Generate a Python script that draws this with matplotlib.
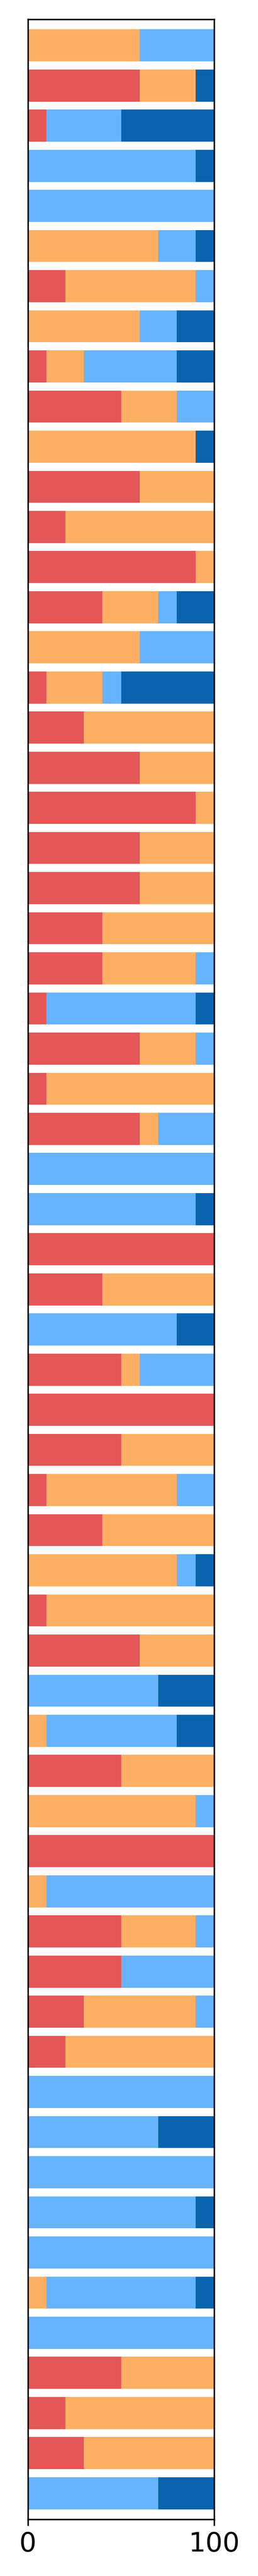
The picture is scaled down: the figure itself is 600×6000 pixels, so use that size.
import matplotlib
matplotlib.use("Agg")
import matplotlib.pyplot as plt
import numpy as np

# share of each category per row, top row first (percent)
red = [0, 60, 10, 0, 0, 0, 20, 0, 10, 50,
       0, 60, 20, 90, 40, 0, 10, 30, 60, 90,
       60, 60, 40, 40, 10, 60, 10, 60, 0, 0,
       100, 40, 0, 50, 100, 50, 10, 40, 0, 10,
       60, 0, 0, 50, 0, 100, 0, 50, 50, 30,
       20, 0, 0, 0, 0, 0, 0, 0, 50, 20,
       30, 0]
orange = [60, 30, 0, 0, 0, 70, 70, 60, 20, 30,
          90, 40, 80, 10, 30, 60, 30, 70, 40, 10,
          40, 40, 60, 50, 0, 30, 90, 10, 0, 0,
          0, 60, 0, 10, 0, 50, 70, 60, 80, 90,
          40, 0, 10, 50, 90, 0, 10, 40, 0, 60,
          80, 0, 0, 0, 0, 0, 10, 0, 50, 80,
          70, 0]
light_blue = [40, 0, 40, 90, 100, 20, 10, 20, 50, 20,
              0, 0, 0, 0, 10, 40, 10, 0, 0, 0,
              0, 0, 0, 10, 80, 10, 0, 30, 100, 90,
              0, 0, 80, 40, 0, 0, 20, 0, 10, 0,
              0, 70, 70, 0, 10, 0, 90, 10, 50, 10,
              0, 100, 70, 100, 90, 100, 80, 100, 0, 0,
              0, 70]
dark_blue = [0, 10, 50, 10, 0, 10, 0, 20, 20, 0,
             10, 0, 0, 0, 20, 0, 50, 0, 0, 0,
             0, 0, 0, 0, 10, 0, 0, 0, 0, 10,
             0, 0, 20, 0, 0, 0, 0, 0, 10, 0,
             0, 30, 20, 0, 0, 0, 0, 0, 0, 0,
             0, 0, 30, 0, 10, 0, 10, 0, 0, 0,
             0, 30]

series = [red, orange, light_blue, dark_blue]
colors = ["#E45756", "#FDB063", "#66B4FF", "#0A64AD"]

n = len(red)
y = np.arange(n)

fig = plt.figure(figsize=(6, 60), dpi=100)
ax = fig.add_axes([65 / 600, 1 - 5868 / 6000, (498 - 65) / 600, (5868 - 45) / 6000])

left = np.zeros(n)
for vals, col in zip(series, colors):
    vals = np.array(vals, dtype=float)
    ax.barh(y, vals, left=left, height=0.8, color=col, linewidth=0)
    left += vals

ax.set_xlim(0, 100)
ax.set_ylim(n - 1 + 0.65, -0.65)
ax.set_xticks([0, 100])
ax.set_yticks([])
ax.tick_params(axis="x", labelsize=45, length=11, width=2.5, pad=9)
for sp in ax.spines.values():
    sp.set_linewidth(2.5)
    sp.set_color("black")

fig.savefig("out.png", dpi=100)
